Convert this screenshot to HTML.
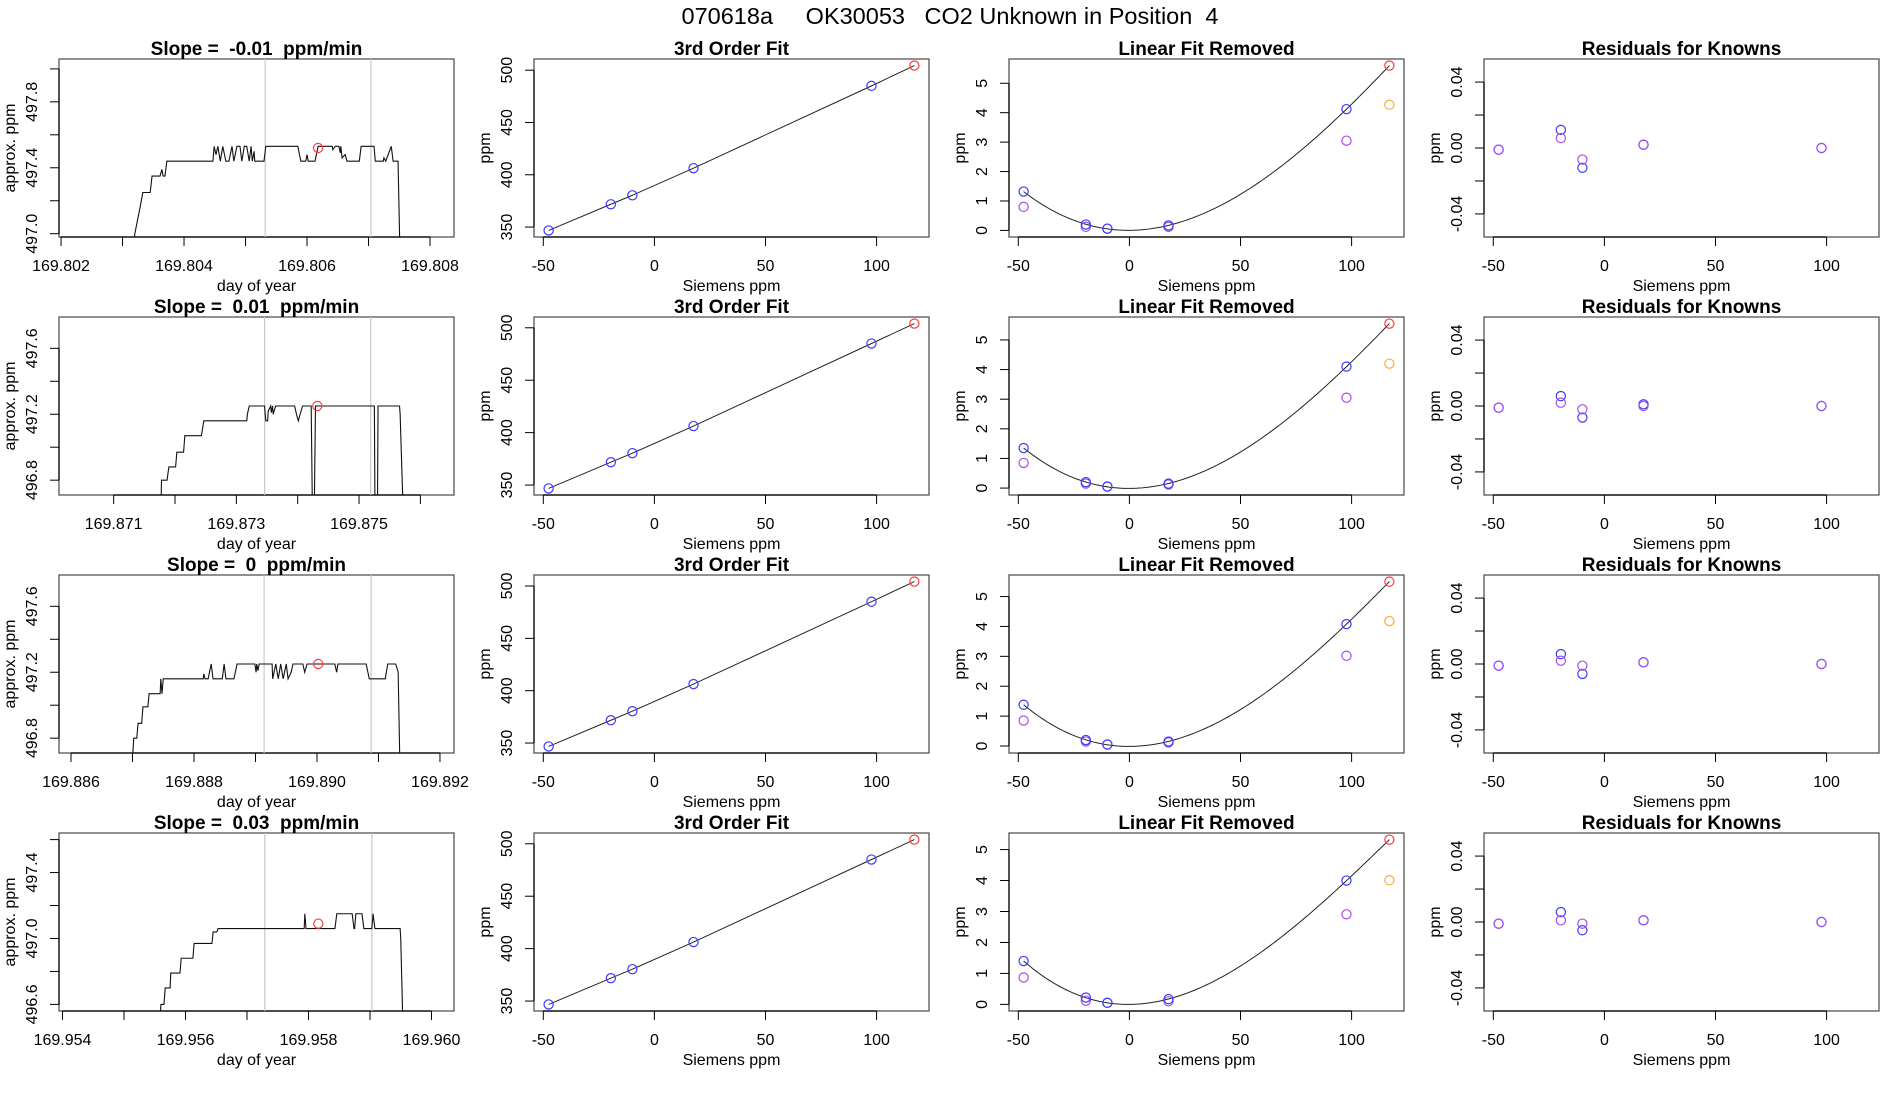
<!DOCTYPE html>
<html><head><meta charset="utf-8">
<style>
html,body{margin:0;padding:0;background:#fff;}
svg{display:block;font-family:"Liberation Sans",Arial,sans-serif;}
</style></head>
<body>
<svg id="chart" xmlns="http://www.w3.org/2000/svg" width="1900" height="1100" viewBox="0 0 1900 1100">
<rect x="0" y="0" width="1900" height="1100" fill="#fff"/>
<text x="950" y="24" text-anchor="middle" font-size="23.5" xml:space="preserve" style="white-space:pre">070618a     OK30053   CO2 Unknown in Position  4</text>
</svg>
<script>
// ---------- time-series data (dt in 1e-5 day units from t0) ----------
const tsT0 = [169.802, 169.871, 169.886, 169.954];
const tsXlim = [[169.801967,169.80839],[169.870109,169.876548],[169.885805,169.892228],[169.953943,169.960366]];
const tsYlim = [[496.98,498.06],[496.71,497.79],[496.71,497.79],[496.56,497.64]];
const tsXticks = [[169.802,169.803,169.804,169.805,169.806,169.807,169.808],[169.871,169.872,169.873,169.874,169.875,169.876],[169.886,169.887,169.888,169.889,169.890,169.891,169.892],[169.954,169.955,169.956,169.957,169.958,169.959,169.960]];
const tsXlabels = [["169.802","","169.804","","169.806","","169.808"],["169.871","","169.873","","169.875",""],["169.886","","169.888","","169.890","","169.892"],["169.954","","169.956","","169.958","","169.960"]];
const tsYticks = [[497.0,497.2,497.4,497.6,497.8,498.0],[496.8,497.0,497.2,497.4,497.6],[496.8,497.0,497.2,497.4,497.6],[496.6,496.8,497.0,497.2,497.4,497.6]];
const tsYlabels = [["497.0","","497.4","","497.8",""],["496.8","","497.2","","497.6"],["496.8","","497.2","","497.6"],["496.6","","497.0","","497.4",""]];
const slopeTitles = ["Slope =  -0.01  ppm/min","Slope =  0.01  ppm/min","Slope =  0  ppm/min","Slope =  0.03  ppm/min"];
const ts1dt = [-3,117,120,128,133,145,148,161,164,166,169,172,247,249,252,255,259,263,268,273,278,281,286,291,294,298,302,306,309,311,314,315,330,333,385,390,398,400,402,413,418,441,442,446,452,454,455,457,462,465,485,488,509,511,524,525,528,537,540,548,551,639];
const ts1v = [496.9,496.9,497.0,497.15,497.25,497.25,497.35,497.35,497.39,497.35,497.35,497.44,497.44,497.53,497.48,497.53,497.44,497.53,497.44,497.44,497.53,497.44,497.53,497.53,497.44,497.53,497.53,497.44,497.53,497.44,497.5,497.44,497.44,497.53,497.53,497.44,497.44,497.48,497.44,497.44,497.53,497.53,497.51,497.53,497.53,497.49,497.53,497.46,497.48,497.44,497.44,497.53,497.53,497.44,497.44,497.46,497.44,497.53,497.44,497.44,496.9,496.9];
const ts2dt = [-89,77,78,87,90,101,103,114,116,143,147,217,218,221,246,248,251,252,256,257,259,260,264,295,298,301,304,308,322,324,327,329,425,426,430,431,466,467,472,555];
const ts2v = [496.6,496.6,496.8,496.8,496.88,496.88,496.97,496.97,497.07,497.07,497.16,497.16,497.2,497.25,497.25,497.16,497.16,497.22,497.25,497.21,497.25,497.2,497.25,497.25,497.2,497.16,497.2,497.25,497.25,496.6,496.6,497.25,497.25,496.6,496.6,497.25,497.25,497.2,496.6,496.6];
const ts3dt = [-20,99,102,107,109,115,117,125,127,145,146,148,150,215,216,218,223,228,231,246,249,252,265,270,299,301,302,304,306,327,328,333,337,341,345,350,353,358,361,377,380,384,429,432,434,480,485,511,515,528,532,535,624];
const ts3v = [496.6,496.6,496.8,496.8,496.89,496.89,496.99,496.99,497.07,497.07,497.16,497.07,497.16,497.16,497.19,497.16,497.16,497.25,497.16,497.16,497.25,497.16,497.16,497.25,497.25,497.2,497.25,497.21,497.25,497.25,497.16,497.25,497.16,497.25,497.16,497.25,497.16,497.2,497.25,497.25,497.2,497.25,497.25,497.2,497.25,497.25,497.16,497.16,497.25,497.25,497.2,496.6,496.6];
const ts4dt = [-6,157,160,165,167,175,176,191,193,212,214,243,245,251,253,393,394,396,443,446,471,474,475,477,487,490,503,505,508,549,550,554,638];
const ts4v = [496.4,496.4,496.6,496.6,496.7,496.7,496.79,496.79,496.88,496.88,496.97,496.97,497.04,497.04,497.06,497.06,497.15,497.06,497.06,497.15,497.15,497.06,497.06,497.15,497.15,497.06,497.06,497.15,497.06,497.06,497.0,496.4,496.4];
const tsDt = [ts1dt, ts2dt, ts3dt, ts4dt];
const tsV = [ts1v, ts2v, ts3v, ts4v];
const tsMarkDt = [418, 332, 402, 416];
const tsMarkV = [497.52, 497.25, 497.25, 497.09];
const tsVlineA = [332, 246, 314, 329];
const tsVlineB = [504, 419, 488, 503];

// ---------- calibration data ----------
const siemensX = [-47.6, -19.6, -9.9, 17.6, 97.7];
const unknownX = 117;
const knownPpm = [346.8, 371.8, 380.4, 406.3, 485.0];
const unknownPpm = [504.4, 504.0, 504.2, 504.0];
const lfrBlue = [[1.32,0.2,0.06,0.17,4.12],[1.35,0.2,0.05,0.15,4.1],[1.38,0.2,0.05,0.15,4.08],[1.40,0.22,0.05,0.17,4.0]];
const lfrPurple = [[0.8,0.12,0.06,0.12,3.05],[0.85,0.15,0.05,0.12,3.05],[0.85,0.15,0.05,0.12,3.02],[0.87,0.12,0.05,0.1,2.91]];
const lfrRed = [5.6, 5.55, 5.5, 5.32];
const lfrOrange = [4.27, 4.2, 4.18, 4.01];
const resBlue = [[-0.001,0.011,-0.012,0.002,0.0],[-0.001,0.006,-0.007,0.001,0.0],[-0.001,0.006,-0.006,0.001,0.0],[-0.001,0.006,-0.005,0.001,0.0]];
const resPurple = [[-0.001,0.006,-0.007,0.002,0.0],[-0.001,0.002,-0.002,0.0,0.0],[-0.001,0.002,-0.001,0.001,0.0],[-0.001,0.001,-0.001,0.001,0.0]];
const sieXticks = [-50, 0, 50, 100];
const ppmYticks = [350, 400, 450, 500];
const lfrYticks = [0, 1, 2, 3, 4, 5];
const resYticks = [-0.04, -0.02, 0, 0.02, 0.04];
const resYlabels = ["-0.04", "", "0.00", "", "0.04"];
const resYlim = [-0.054, 0.054];

const NS = "http://www.w3.org/2000/svg";
const svg = document.getElementById("chart");
const BOXW = 395, BOXH = 178;
const C = {blue:"#3a3aff", purple:"#a84cf0", red:"#ff3b3b", orange:"#ffac30"};

function mk(tag, attrs, parent) {
  const e = document.createElementNS(NS, tag);
  for (const k in attrs) e.setAttribute(k, attrs[k]);
  (parent || svg).appendChild(e);
  return e;
}
function ext(lo, hi) { const d = (hi - lo) * 0.04; return [lo - d, hi + d]; }

function panel(col, row, xlim, ylim, title, xlab, ylab, xt, xl, yt, yl, name) {
  const L = 59 + 475 * col, T = 59 + 258 * row, R = L + BOXW, B = T + BOXH;
  const g = mk("g", {});
  
  
  const sx = v => L + (v - xlim[0]) / (xlim[1] - xlim[0]) * BOXW;
  const sy = v => B - (v - ylim[0]) / (ylim[1] - ylim[0]) * BOXH;
  const box = mk("rect", {x:L, y:T, width:BOXW, height:BOXH, fill:"none", stroke:"#555", "stroke-width":1.3}, g);
  
  
  const ttl = mk("text", {x:L + BOXW/2, y:T - 4, "text-anchor":"middle", "font-size":19, "font-weight":"bold", "xml:space":"preserve", style:"white-space:pre"}, g);
  ttl.textContent = title;
  
  
  const xa = mk("g", {}, g);
  
  
  mk("line", {x1:sx(xt[0]), x2:sx(xt[xt.length-1]), y1:B, y2:B, stroke:"#000", "stroke-width":1.2}, xa);
  xt.forEach((v, i) => {
    mk("line", {x1:sx(v), x2:sx(v), y1:B, y2:B + 9, stroke:"#000", "stroke-width":1}, xa);
    if (xl[i]) {
      const t = mk("text", {x:sx(v), y:B + 34, "text-anchor":"middle", "font-size":16}, xa);
      t.textContent = xl[i];
      
      
    }
  });
  const xt2 = mk("text", {x:L + BOXW/2, y:B + 54, "text-anchor":"middle", "font-size":16}, g);
  xt2.textContent = xlab;
  
  
  const ya = mk("g", {}, g);
  
  
  mk("line", {x1:L, x2:L, y1:sy(yt[0]), y2:sy(yt[yt.length-1]), stroke:"#000", "stroke-width":1.2}, ya);
  yt.forEach((v, i) => {
    mk("line", {x1:L - 9, x2:L, y1:sy(v), y2:sy(v), stroke:"#000", "stroke-width":1}, ya);
    if (yl[i]) {
      const t = mk("text", {x:0, y:0, "text-anchor":"middle", "font-size":16, transform:`translate(${L - 22},${sy(v)}) rotate(-90)`}, ya);
      t.textContent = yl[i];
      
      
    }
  });
  const yt2 = mk("text", {x:0, y:0, "text-anchor":"middle", "font-size":16, transform:`translate(${L - 44},${T + BOXH/2}) rotate(-90)`}, g);
  yt2.textContent = ylab;
  
  
  const clipId = "clip" + col + "_" + row;
  const cp = mk("clipPath", {id:clipId}, g);
  mk("rect", {x:L, y:T, width:BOXW, height:BOXH}, cp);
  const plot = mk("g", {"clip-path":`url(#${clipId})`}, g);
  
  
  return {sx, sy, plot, T, B};
}
function circ(p, x, y, color, name) {
  const c = mk("circle", {cx:p.sx(x), cy:p.sy(y), r:4.6, fill:"none", stroke:color, "stroke-width":1.2}, p.plot);
  
  
}

function cubicFit(xs, ys) {
  const n = 4, A = [], b = [];
  for (let i = 0; i < n; i++) { A.push([0,0,0,0]); b.push(0); }
  xs.forEach((x, k) => {
    const p = [1, x, x*x, x*x*x];
    for (let i = 0; i < n; i++) { b[i] += p[i] * ys[k]; for (let j = 0; j < n; j++) A[i][j] += p[i] * p[j]; }
  });
  for (let i = 0; i < n; i++) {
    let m = i; for (let r = i+1; r < n; r++) if (Math.abs(A[r][i]) > Math.abs(A[m][i])) m = r;
    [A[i], A[m]] = [A[m], A[i]]; [b[i], b[m]] = [b[m], b[i]];
    for (let r = 0; r < n; r++) if (r !== i) {
      const f = A[r][i] / A[i][i];
      for (let j = i; j < n; j++) A[r][j] -= f * A[i][j];
      b[r] -= f * b[i];
    }
  }
  return b.map((v, i) => v / A[i][i]);
}

const allX = siemensX.concat([unknownX]);
const sxlim = ext(Math.min(...allX), Math.max(...allX));

for (let r = 0; r < 4; r++) {
  const p = panel(0, r, tsXlim[r], tsYlim[r], slopeTitles[r], "day of year", "approx. ppm", tsXticks[r], tsXlabels[r], tsYticks[r], tsYlabels[r], "timeseries-panel-row" + (r+1));
  const t0 = tsT0[r];
  [tsVlineA[r], tsVlineB[r]].forEach(d => {
    const x = p.sx(t0 + d * 1e-5);
    const vl = mk("line", {x1:x, x2:x, y1:p.T, y2:p.B, stroke:"#c8c8c8", "stroke-width":1.2}, p.plot);
    
    
  });
  const pts = tsDt[r].map((d, i) => p.sx(t0 + d * 1e-5).toFixed(2) + "," + p.sy(tsV[r][i]).toFixed(2)).join(" ");
  const pl = mk("polyline", {points:pts, fill:"none", stroke:"#111", "stroke-width":1.1}, p.plot);
  
  
  circ(p, t0 + tsMarkDt[r] * 1e-5, tsMarkV[r], C.red, "mean-marker");

  const ys2 = knownPpm.concat([unknownPpm[r]]);
  const p2 = panel(1, r, sxlim, ext(Math.min(...ys2), Math.max(...ys2)), "3rd Order Fit", "Siemens ppm", "ppm", sieXticks, sieXticks.map(String), ppmYticks, ppmYticks.map(String), "fit-panel-row" + (r+1));
  const ord = allX.map((x, i) => [x, ys2[i]]).sort((a, b) => a[0] - b[0]);
  const fl = mk("polyline", {points:ord.map(q => p2.sx(q[0]).toFixed(2) + "," + p2.sy(q[1]).toFixed(2)).join(" "), fill:"none", stroke:"#222", "stroke-width":1}, p2.plot);
  
  
  siemensX.forEach((x, i) => circ(p2, x, knownPpm[i], C.blue, "known-point"));
  circ(p2, unknownX, unknownPpm[r], C.red, "unknown-point");

  const coef = cubicFit(siemensX.concat([unknownX]), lfrBlue[r].concat([lfrRed[r]]));
  const cv = x => coef[0] + coef[1]*x + coef[2]*x*x + coef[3]*x*x*x;
  const curveX = [], curveY = [];
  for (let k = 0; k <= 120; k++) { const x = siemensX[0] + (unknownX - siemensX[0]) * k / 120; curveX.push(x); curveY.push(cv(x)); }
  const all3 = lfrBlue[r].concat(lfrPurple[r], [lfrRed[r], lfrOrange[r]], curveY);
  const p3 = panel(2, r, sxlim, ext(Math.min(0, ...all3), Math.max(...all3)), "Linear Fit Removed", "Siemens ppm", "ppm", sieXticks, sieXticks.map(String), lfrYticks, lfrYticks.map(String), "linear-removed-panel-row" + (r+1));
  const cl = mk("polyline", {points:curveX.map((x, k) => p3.sx(x).toFixed(2) + "," + p3.sy(curveY[k]).toFixed(2)).join(" "), fill:"none", stroke:"#222", "stroke-width":1}, p3.plot);
  
  
  siemensX.forEach((x, i) => circ(p3, x, lfrPurple[r][i], C.purple, "purple-point"));
  siemensX.forEach((x, i) => circ(p3, x, lfrBlue[r][i], C.blue, "blue-point"));
  circ(p3, unknownX, lfrRed[r], C.red, "unknown-point");
  circ(p3, unknownX, lfrOrange[r], C.orange, "orange-point");

  const p4 = panel(3, r, sxlim, resYlim, "Residuals for Knowns", "Siemens ppm", "ppm", sieXticks, sieXticks.map(String), resYticks, resYlabels, "residuals-panel-row" + (r+1));
  siemensX.forEach((x, i) => circ(p4, x, resBlue[r][i], C.blue, "residual-blue"));
  siemensX.forEach((x, i) => circ(p4, x, resPurple[r][i], C.purple, "residual-purple"));
}
</script>
</body></html>
